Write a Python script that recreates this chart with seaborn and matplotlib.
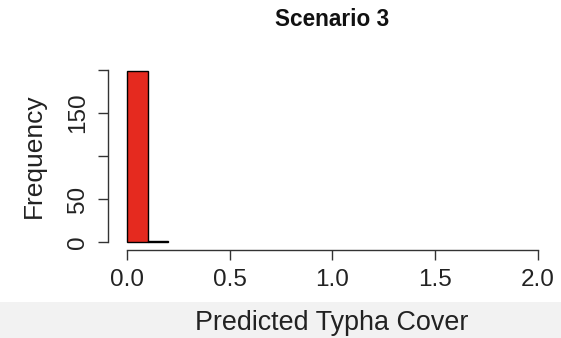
import matplotlib
matplotlib.use("Agg")
import matplotlib.pyplot as plt
import seaborn as sns
import numpy as np
import pandas as pd
from matplotlib.patches import Rectangle

# Data
bin_edges = [0.0, 0.1, 0.2]
counts = [199, 1]
x_ticks = [0.0, 0.5, 1.0, 1.5, 2.0]
x_tick_labels = ["0.0", "0.5", "1.0", "1.5", "2.0"]
y_ticks = [0, 50, 100, 150, 200]
y_tick_labels = ["0", "50", "", "150", ""]
title = "Scenario 3"
xlabel = "Predicted Typha Cover"
ylabel = "Frequency"

sns.set_style("white")
plt.rcParams['font.family'] = ['Liberation Sans', 'DejaVu Sans']

W, H = 561, 338
fig = plt.figure(figsize=(W / 100, H / 100), dpi=100)
fig.patch.set_facecolor("white")
# light gray band at the bottom
fig.patches.append(Rectangle((0, 0), 1, 36 / H, transform=fig.transFigure,
                             facecolor="#f2f2f2", edgecolor="none", zorder=0))

ax = fig.add_axes([108 / W, 1 - 250 / H, (554 - 108) / W, (250 - 65.7) / H])
ax.set_facecolor("none")

centers = [(bin_edges[i] + bin_edges[i + 1]) / 2 for i in range(len(counts))]
df = pd.DataFrame({"x": centers, "w": counts})
sns.histplot(data=df, x="x", weights="w", bins=bin_edges, ax=ax,
             color="#E52A1F", edgecolor="black", linewidth=1.0, alpha=1.0)

ax.set_xlim(-0.0925, 2.08)
ax.set_ylim(-9.3, 205)

for s in ["top", "right"]:
    ax.spines[s].set_visible(False)
for s in ["left", "bottom"]:
    ax.spines[s].set_visible(True)
    ax.spines[s].set_color("#333333")
    ax.spines[s].set_linewidth(1.0)
ax.spines["left"].set_bounds(0, 200)
ax.spines["bottom"].set_bounds(0, 2.0)

ax.set_xticks(x_ticks)
ax.set_xticklabels(x_tick_labels)
ax.set_yticks(y_ticks)
ax.set_yticklabels(y_tick_labels, rotation=90, va="center")
ax.tick_params(axis="both", which="major", direction="out", length=7.2,
               width=1.0, color="#333333", labelsize=17.5, labelcolor="#222222",
               bottom=True, left=True)
ax.tick_params(axis="x", pad=6.5)
ax.tick_params(axis="y", pad=6.5)
ax.set_xlabel("")
ax.set_ylabel("")

fig.text(332 / W, 1 - 19 / H, title, ha="center", va="center",
         fontsize=16.3, fontweight="bold", color="#111111")
fig.text(332 / W, 1 - 323 / H, xlabel, ha="center", va="center",
         fontsize=19.4, color="#222222")
fig.text(34 / W, 1 - 156 / H, ylabel, ha="center", va="center",
         rotation=90, fontsize=19, color="#222222")

fig.savefig("out.png", dpi=100)
